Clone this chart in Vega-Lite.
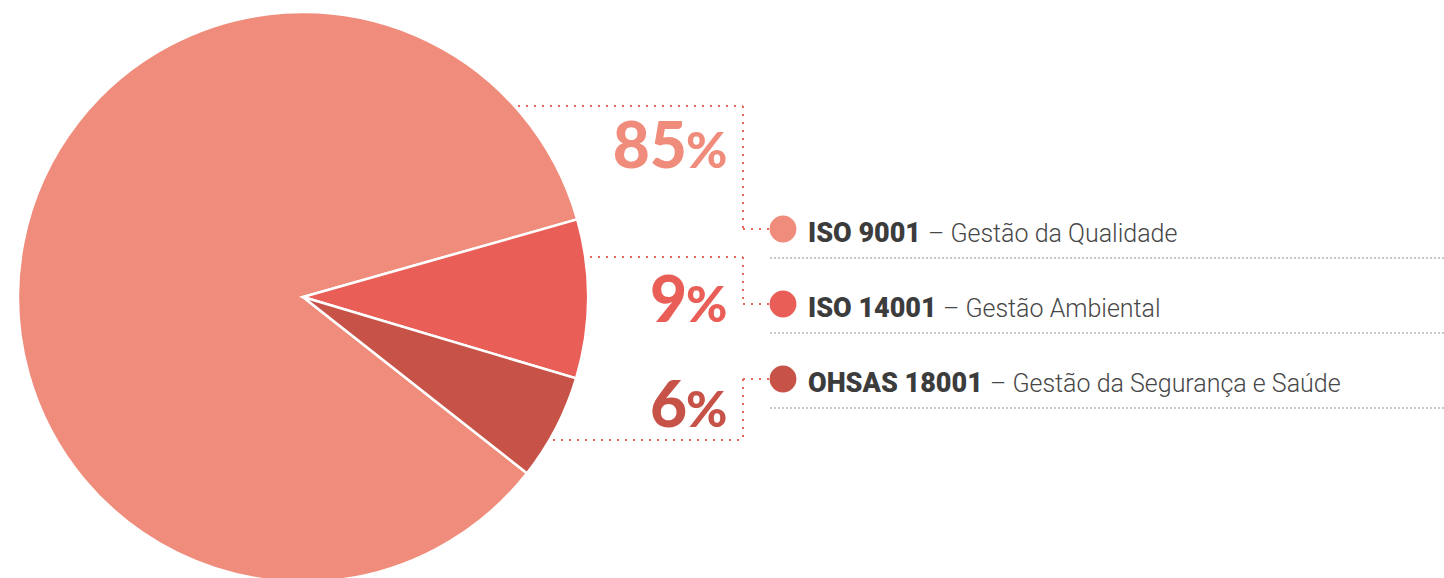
{
  "$schema": "https://vega.github.io/schema/vega-lite/v6.json",
  "width": 1444,
  "height": 578,
  "autosize": {"type": "none"},
  "padding": 0,
  "background": "#ffffff",
  "config": {"view": {"stroke": null}, "axis": {"disable": true}},
  "datasets": {
    "certs": [
      {"cert": "ISO 9001", "desc": "– Gestão da Qualidade", "pct": 85, "rank": 1},
      {"cert": "ISO 14001", "desc": "– Gestão Ambiental", "pct": 9, "rank": 2},
      {"cert": "OHSAS 18001", "desc": "– Gestão da Segurança e Saúde", "pct": 6, "rank": 3}
    ]
  },
  "data": {"name": "certs"},
  "layer": [
    {
      "mark": {"type": "arc", "radius": 285, "stroke": "#ffffff", "strokeWidth": 2.5},
      "encoding": {
        "theta": {"field": "pct", "type": "quantitative", "stack": true, "scale": {"range": [2.2375, 8.5207]}},
        "order": {"field": "rank", "type": "ordinal"},
        "color": {"field": "cert", "type": "nominal", "legend": null,
          "scale": {"domain": ["ISO 9001", "ISO 14001", "OHSAS 18001"], "range": ["#F08C7B", "#E95F57", "#C75248"]}},
        "x": {"datum": 303, "type": "quantitative", "scale": {"domain": [0, 1444], "nice": false, "zero": false}},
        "y": {"datum": 297, "type": "quantitative", "scale": {"domain": [0, 578], "nice": false, "zero": false, "reverse": true}}
      }
    },
    {
      "transform": [{"filter": "datum.cert === 'ISO 9001'"}],
      "layer": [
        {"mark": {"type": "text", "font": "Lato", "fontWeight": 900, "fontSize": 64, "align": "right", "baseline": "alphabetic"},
         "encoding": {"text": {"field": "pct"}, "color": {"field": "cert", "type": "nominal"},
           "x": {"datum": 687, "type": "quantitative", "scale": {"domain": [0, 1444], "nice": false, "zero": false}},
           "y": {"datum": 168, "type": "quantitative", "scale": {"domain": [0, 578], "nice": false, "zero": false, "reverse": true}}}},
        {"mark": {"type": "text", "font": "Lato", "fontWeight": 900, "fontSize": 50, "align": "left", "baseline": "alphabetic", "text": "%"},
         "encoding": {"color": {"field": "cert", "type": "nominal"},
           "x": {"datum": 686, "type": "quantitative", "scale": {"domain": [0, 1444], "nice": false, "zero": false}},
           "y": {"datum": 168, "type": "quantitative", "scale": {"domain": [0, 578], "nice": false, "zero": false, "reverse": true}}}},
        {"mark": {"type": "point", "shape": "circle", "filled": true, "size": 720, "opacity": 1},
         "encoding": {"color": {"field": "cert", "type": "nominal"},
           "x": {"datum": 783, "type": "quantitative", "scale": {"domain": [0, 1444], "nice": false, "zero": false}},
           "y": {"datum": 229, "type": "quantitative", "scale": {"domain": [0, 578], "nice": false, "zero": false, "reverse": true}}}},
        {"mark": {"type": "text", "font": "Roboto", "fontWeight": 900, "fontSize": 27, "align": "left", "baseline": "alphabetic", "color": "#3c3c3c"},
         "encoding": {"text": {"field": "cert"},
           "x": {"datum": 808, "type": "quantitative", "scale": {"domain": [0, 1444], "nice": false, "zero": false}},
           "y": {"datum": 242, "type": "quantitative", "scale": {"domain": [0, 578], "nice": false, "zero": false, "reverse": true}}}},
        {"mark": {"type": "text", "font": "Roboto", "fontWeight": 300, "fontSize": 25, "align": "left", "baseline": "alphabetic", "color": "#474747"},
         "encoding": {"text": {"field": "desc"},
           "x": {"datum": 928, "type": "quantitative", "scale": {"domain": [0, 1444], "nice": false, "zero": false}},
           "y": {"datum": 242, "type": "quantitative", "scale": {"domain": [0, 578], "nice": false, "zero": false, "reverse": true}}}},
        {"mark": {"type": "rule", "color": "#c8c8c8", "strokeWidth": 2, "strokeDash": [2, 2]},
         "encoding": {
           "x": {"datum": 770, "type": "quantitative", "scale": {"domain": [0, 1444], "nice": false, "zero": false}},
           "x2": {"datum": 1444},
           "y": {"datum": 258, "type": "quantitative", "scale": {"domain": [0, 578], "nice": false, "zero": false, "reverse": true}}}},
        {"mark": {"type": "rule", "color": "#E9665E", "strokeWidth": 2, "strokeDash": [2, 6]},
         "encoding": {
           "x": {"datum": 518, "type": "quantitative", "scale": {"domain": [0, 1444], "nice": false, "zero": false}},
           "x2": {"datum": 743},
           "y": {"datum": 106, "type": "quantitative", "scale": {"domain": [0, 578], "nice": false, "zero": false, "reverse": true}}}},
        {"mark": {"type": "rule", "color": "#E9665E", "strokeWidth": 2, "strokeDash": [2, 6]},
         "encoding": {
           "x": {"datum": 743, "type": "quantitative", "scale": {"domain": [0, 1444], "nice": false, "zero": false}},
           "y": {"datum": 106, "type": "quantitative", "scale": {"domain": [0, 578], "nice": false, "zero": false, "reverse": true}},
           "y2": {"datum": 229}}},
        {"mark": {"type": "rule", "color": "#E9665E", "strokeWidth": 2, "strokeDash": [2, 6]},
         "encoding": {
           "x": {"datum": 743, "type": "quantitative", "scale": {"domain": [0, 1444], "nice": false, "zero": false}},
           "x2": {"datum": 770},
           "y": {"datum": 229, "type": "quantitative", "scale": {"domain": [0, 578], "nice": false, "zero": false, "reverse": true}}}}
      ]
    },
    {
      "transform": [{"filter": "datum.cert === 'ISO 14001'"}],
      "layer": [
        {"mark": {"type": "text", "font": "Lato", "fontWeight": 900, "fontSize": 64, "align": "right", "baseline": "alphabetic"},
         "encoding": {"text": {"field": "pct"}, "color": {"field": "cert", "type": "nominal"},
           "x": {"datum": 687, "type": "quantitative", "scale": {"domain": [0, 1444], "nice": false, "zero": false}},
           "y": {"datum": 322, "type": "quantitative", "scale": {"domain": [0, 578], "nice": false, "zero": false, "reverse": true}}}},
        {"mark": {"type": "text", "font": "Lato", "fontWeight": 900, "fontSize": 50, "align": "left", "baseline": "alphabetic", "text": "%"},
         "encoding": {"color": {"field": "cert", "type": "nominal"},
           "x": {"datum": 686, "type": "quantitative", "scale": {"domain": [0, 1444], "nice": false, "zero": false}},
           "y": {"datum": 322, "type": "quantitative", "scale": {"domain": [0, 578], "nice": false, "zero": false, "reverse": true}}}},
        {"mark": {"type": "point", "shape": "circle", "filled": true, "size": 720, "opacity": 1},
         "encoding": {"color": {"field": "cert", "type": "nominal"},
           "x": {"datum": 783, "type": "quantitative", "scale": {"domain": [0, 1444], "nice": false, "zero": false}},
           "y": {"datum": 304, "type": "quantitative", "scale": {"domain": [0, 578], "nice": false, "zero": false, "reverse": true}}}},
        {"mark": {"type": "text", "font": "Roboto", "fontWeight": 900, "fontSize": 27, "align": "left", "baseline": "alphabetic", "color": "#3c3c3c"},
         "encoding": {"text": {"field": "cert"},
           "x": {"datum": 808, "type": "quantitative", "scale": {"domain": [0, 1444], "nice": false, "zero": false}},
           "y": {"datum": 317, "type": "quantitative", "scale": {"domain": [0, 578], "nice": false, "zero": false, "reverse": true}}}},
        {"mark": {"type": "text", "font": "Roboto", "fontWeight": 300, "fontSize": 25, "align": "left", "baseline": "alphabetic", "color": "#474747"},
         "encoding": {"text": {"field": "desc"},
           "x": {"datum": 943, "type": "quantitative", "scale": {"domain": [0, 1444], "nice": false, "zero": false}},
           "y": {"datum": 317, "type": "quantitative", "scale": {"domain": [0, 578], "nice": false, "zero": false, "reverse": true}}}},
        {"mark": {"type": "rule", "color": "#c8c8c8", "strokeWidth": 2, "strokeDash": [2, 2]},
         "encoding": {
           "x": {"datum": 770, "type": "quantitative", "scale": {"domain": [0, 1444], "nice": false, "zero": false}},
           "x2": {"datum": 1444},
           "y": {"datum": 333, "type": "quantitative", "scale": {"domain": [0, 578], "nice": false, "zero": false, "reverse": true}}}},
        {"mark": {"type": "rule", "color": "#E9665E", "strokeWidth": 2, "strokeDash": [2, 6]},
         "encoding": {
           "x": {"datum": 590, "type": "quantitative", "scale": {"domain": [0, 1444], "nice": false, "zero": false}},
           "x2": {"datum": 743},
           "y": {"datum": 257, "type": "quantitative", "scale": {"domain": [0, 578], "nice": false, "zero": false, "reverse": true}}}},
        {"mark": {"type": "rule", "color": "#E9665E", "strokeWidth": 2, "strokeDash": [2, 6]},
         "encoding": {
           "x": {"datum": 743, "type": "quantitative", "scale": {"domain": [0, 1444], "nice": false, "zero": false}},
           "y": {"datum": 257, "type": "quantitative", "scale": {"domain": [0, 578], "nice": false, "zero": false, "reverse": true}},
           "y2": {"datum": 304}}},
        {"mark": {"type": "rule", "color": "#E9665E", "strokeWidth": 2, "strokeDash": [2, 6]},
         "encoding": {
           "x": {"datum": 743, "type": "quantitative", "scale": {"domain": [0, 1444], "nice": false, "zero": false}},
           "x2": {"datum": 770},
           "y": {"datum": 304, "type": "quantitative", "scale": {"domain": [0, 578], "nice": false, "zero": false, "reverse": true}}}}
      ]
    },
    {
      "transform": [{"filter": "datum.cert === 'OHSAS 18001'"}],
      "layer": [
        {"mark": {"type": "text", "font": "Lato", "fontWeight": 900, "fontSize": 64, "align": "right", "baseline": "alphabetic"},
         "encoding": {"text": {"field": "pct"}, "color": {"field": "cert", "type": "nominal"},
           "x": {"datum": 687, "type": "quantitative", "scale": {"domain": [0, 1444], "nice": false, "zero": false}},
           "y": {"datum": 427, "type": "quantitative", "scale": {"domain": [0, 578], "nice": false, "zero": false, "reverse": true}}}},
        {"mark": {"type": "text", "font": "Lato", "fontWeight": 900, "fontSize": 50, "align": "left", "baseline": "alphabetic", "text": "%"},
         "encoding": {"color": {"field": "cert", "type": "nominal"},
           "x": {"datum": 686, "type": "quantitative", "scale": {"domain": [0, 1444], "nice": false, "zero": false}},
           "y": {"datum": 427, "type": "quantitative", "scale": {"domain": [0, 578], "nice": false, "zero": false, "reverse": true}}}},
        {"mark": {"type": "point", "shape": "circle", "filled": true, "size": 720, "opacity": 1},
         "encoding": {"color": {"field": "cert", "type": "nominal"},
           "x": {"datum": 783, "type": "quantitative", "scale": {"domain": [0, 1444], "nice": false, "zero": false}},
           "y": {"datum": 379, "type": "quantitative", "scale": {"domain": [0, 578], "nice": false, "zero": false, "reverse": true}}}},
        {"mark": {"type": "text", "font": "Roboto", "fontWeight": 900, "fontSize": 27, "align": "left", "baseline": "alphabetic", "color": "#3c3c3c"},
         "encoding": {"text": {"field": "cert"},
           "x": {"datum": 808, "type": "quantitative", "scale": {"domain": [0, 1444], "nice": false, "zero": false}},
           "y": {"datum": 392, "type": "quantitative", "scale": {"domain": [0, 578], "nice": false, "zero": false, "reverse": true}}}},
        {"mark": {"type": "text", "font": "Roboto", "fontWeight": 300, "fontSize": 25, "align": "left", "baseline": "alphabetic", "color": "#474747"},
         "encoding": {"text": {"field": "desc"},
           "x": {"datum": 990, "type": "quantitative", "scale": {"domain": [0, 1444], "nice": false, "zero": false}},
           "y": {"datum": 392, "type": "quantitative", "scale": {"domain": [0, 578], "nice": false, "zero": false, "reverse": true}}}},
        {"mark": {"type": "rule", "color": "#c8c8c8", "strokeWidth": 2, "strokeDash": [2, 2]},
         "encoding": {
           "x": {"datum": 770, "type": "quantitative", "scale": {"domain": [0, 1444], "nice": false, "zero": false}},
           "x2": {"datum": 1444},
           "y": {"datum": 408, "type": "quantitative", "scale": {"domain": [0, 578], "nice": false, "zero": false, "reverse": true}}}},
        {"mark": {"type": "rule", "color": "#E9665E", "strokeWidth": 2, "strokeDash": [2, 6]},
         "encoding": {
           "x": {"datum": 553, "type": "quantitative", "scale": {"domain": [0, 1444], "nice": false, "zero": false}},
           "x2": {"datum": 743},
           "y": {"datum": 440, "type": "quantitative", "scale": {"domain": [0, 578], "nice": false, "zero": false, "reverse": true}}}},
        {"mark": {"type": "rule", "color": "#E9665E", "strokeWidth": 2, "strokeDash": [2, 6]},
         "encoding": {
           "x": {"datum": 743, "type": "quantitative", "scale": {"domain": [0, 1444], "nice": false, "zero": false}},
           "y": {"datum": 379, "type": "quantitative", "scale": {"domain": [0, 578], "nice": false, "zero": false, "reverse": true}},
           "y2": {"datum": 440}}},
        {"mark": {"type": "rule", "color": "#E9665E", "strokeWidth": 2, "strokeDash": [2, 6]},
         "encoding": {
           "x": {"datum": 743, "type": "quantitative", "scale": {"domain": [0, 1444], "nice": false, "zero": false}},
           "x2": {"datum": 770},
           "y": {"datum": 379, "type": "quantitative", "scale": {"domain": [0, 578], "nice": false, "zero": false, "reverse": true}}}}
      ]
    }
  ]
}
